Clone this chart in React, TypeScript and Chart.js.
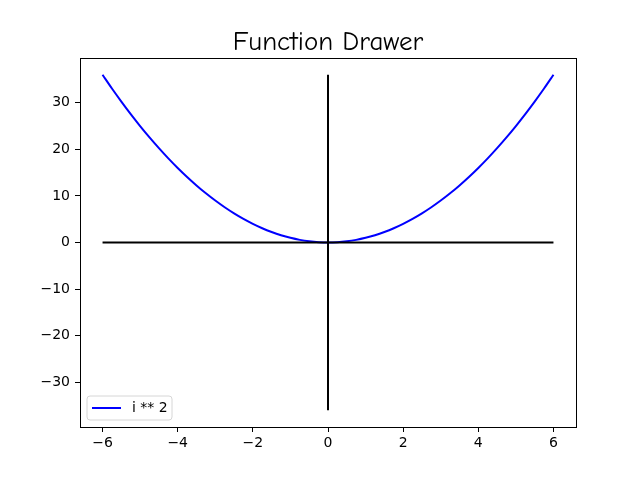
import React, { useEffect, useRef } from "react";
import { Chart, registerables } from "chart.js";

Chart.register(...registerables);

const TITLE = "Function Drawer";
const SERIES_LABEL = "i ** 2";
const xValues = [-6, -5.75, -5.5, -5.25, -5, -4.75, -4.5, -4.25, -4, -3.75, -3.5, -3.25, -3, -2.75, -2.5, -2.25, -2, -1.75, -1.5, -1.25, -1, -0.75, -0.5, -0.25, 0, 0.25, 0.5, 0.75, 1, 1.25, 1.5, 1.75, 2, 2.25, 2.5, 2.75, 3, 3.25, 3.5, 3.75, 4, 4.25, 4.5, 4.75, 5, 5.25, 5.5, 5.75, 6];
const yValues = [36, 33.06, 30.25, 27.56, 25, 22.56, 20.25, 18.06, 16, 14.06, 12.25, 10.56, 9, 7.56, 6.25, 5.06, 4, 3.06, 2.25, 1.56, 1, 0.56, 0.25, 0.06, 0, 0.06, 0.25, 0.56, 1, 1.56, 2.25, 3.06, 4, 5.06, 6.25, 7.56, 9, 10.56, 12.25, 14.06, 16, 18.06, 20.25, 22.56, 25, 27.56, 30.25, 33.06, 36];
const hAxisX = [-6, 6];
const hAxisY = [0, 0];
const vAxisX = [0, 0];
const vAxisY = [-36, 36];
const xTicks = [-6, -4, -2, 0, 2, 4, 6];
const yTicks = [-30, -20, -10, 0, 10, 20, 30];
const xRange = [-6.6, 6.6];
const yRange = [-39.6, 39.6];

const fmt = (v: number) => String(v).replace("-", "\u2212");

export default function App() {
  const ref = useRef<HTMLCanvasElement>(null);
  useEffect(() => {
    const canvas = ref.current!;
    const framePlugin = {
      id: "frame",
      afterDatasetsDraw(chart: any) {
        const { ctx, chartArea: a } = chart;
        ctx.save();
        ctx.strokeStyle = "#000";
        ctx.lineWidth = 1;
        ctx.strokeRect(Math.round(a.left) + 0.5, Math.round(a.top) + 0.5, Math.round(a.right - a.left), Math.round(a.bottom - a.top));
        // legend
        const bx = 87, by = 396, bw = 85, bh = 24, r = 3;
        ctx.beginPath();
        ctx.moveTo(bx + r, by);
        ctx.lineTo(bx + bw - r, by);
        ctx.arcTo(bx + bw, by, bx + bw, by + r, r);
        ctx.lineTo(bx + bw, by + bh - r);
        ctx.arcTo(bx + bw, by + bh, bx + bw - r, by + bh, r);
        ctx.lineTo(bx + r, by + bh);
        ctx.arcTo(bx, by + bh, bx, by + bh - r, r);
        ctx.lineTo(bx, by + r);
        ctx.arcTo(bx, by, bx + r, by, r);
        ctx.closePath();
        ctx.fillStyle = "rgba(255,255,255,0.8)";
        ctx.fill();
        ctx.strokeStyle = "#d6d6d6";
        ctx.stroke();
        ctx.beginPath();
        ctx.strokeStyle = "#0000ff";
        ctx.lineWidth = 2;
        ctx.moveTo(92, 408);
        ctx.lineTo(121, 408);
        ctx.stroke();
        ctx.fillStyle = "#000";
        ctx.font = "14px 'DejaVu Sans'";
        ctx.textBaseline = "middle";
        ctx.textAlign = "left";
        ctx.fillText(SERIES_LABEL, 132, 408);
        // title
        ctx.font = "27px 'Comic Sans MS', 'Comic Neue', Lato, 'DejaVu Sans'";
        ctx.textAlign = "center";
        ctx.textBaseline = "alphabetic";
        ctx.fillText(TITLE, (a.left + a.right) / 2, 50);
        ctx.restore();
      },
    };
    const toPts = (xs: number[], ys: number[]) => xs.map((x, i) => ({ x, y: ys[i] }));
    const chart = new Chart(canvas, {
      type: "line",
      data: {
        datasets: [
          { label: SERIES_LABEL, data: toPts(xValues, yValues), borderColor: "#0000ff", borderWidth: 2, pointRadius: 0, cubicInterpolationMode: "monotone", fill: false, order: 2 },
          { label: "h", data: toPts(hAxisX, hAxisY), borderColor: "#000", borderWidth: 2, pointRadius: 0, fill: false, order: 1 },
          { label: "v", data: toPts(vAxisX, vAxisY), borderColor: "#000", borderWidth: 2, pointRadius: 0, fill: false, order: 0 },
        ],
      },
      options: {
        responsive: false,
        animation: false,
        parsing: false as any,
        layout: { padding: { top: 58, right: 64, left: 0, bottom: 0 } },
        plugins: { legend: { display: false }, title: { display: false }, tooltip: { enabled: false } },
        scales: {
          x: {
            type: "linear",
            min: xRange[0],
            max: xRange[1],
            afterFit: (s: any) => { s.height = 53; },
            afterBuildTicks: (s: any) => { s.ticks = xTicks.map((v) => ({ value: v })); },
            ticks: { color: "#000", font: { family: "DejaVu Sans", size: 14 }, padding: 3, maxRotation: 0, callback: (v: any) => fmt(v) },
            grid: { drawOnChartArea: false, drawTicks: true, tickLength: 5, tickColor: "#000", tickWidth: 1 },
            border: { display: true, color: "#000", width: 1 },
          },
          y: {
            type: "linear",
            min: yRange[0],
            max: yRange[1],
            afterFit: (s: any) => { s.width = 80; },
            afterBuildTicks: (s: any) => { s.ticks = yTicks.map((v) => ({ value: v })); },
            ticks: { color: "#000", font: { family: "DejaVu Sans", size: 14 }, padding: 5, callback: (v: any) => fmt(v) },
            grid: { drawOnChartArea: false, drawTicks: true, tickLength: 5, tickColor: "#000", tickWidth: 1 },
            border: { display: true, color: "#000", width: 1 },
          },
        },
      },
      plugins: [framePlugin],
    });
    return () => chart.destroy();
  }, []);
  return (
    <div style={{ position: "fixed", left: 0, top: 0, width: 640, height: 480, background: "#fff" }}>
      <canvas ref={ref} width={640} height={480} style={{ width: 640, height: 480 }} />
    </div>
  );
}
